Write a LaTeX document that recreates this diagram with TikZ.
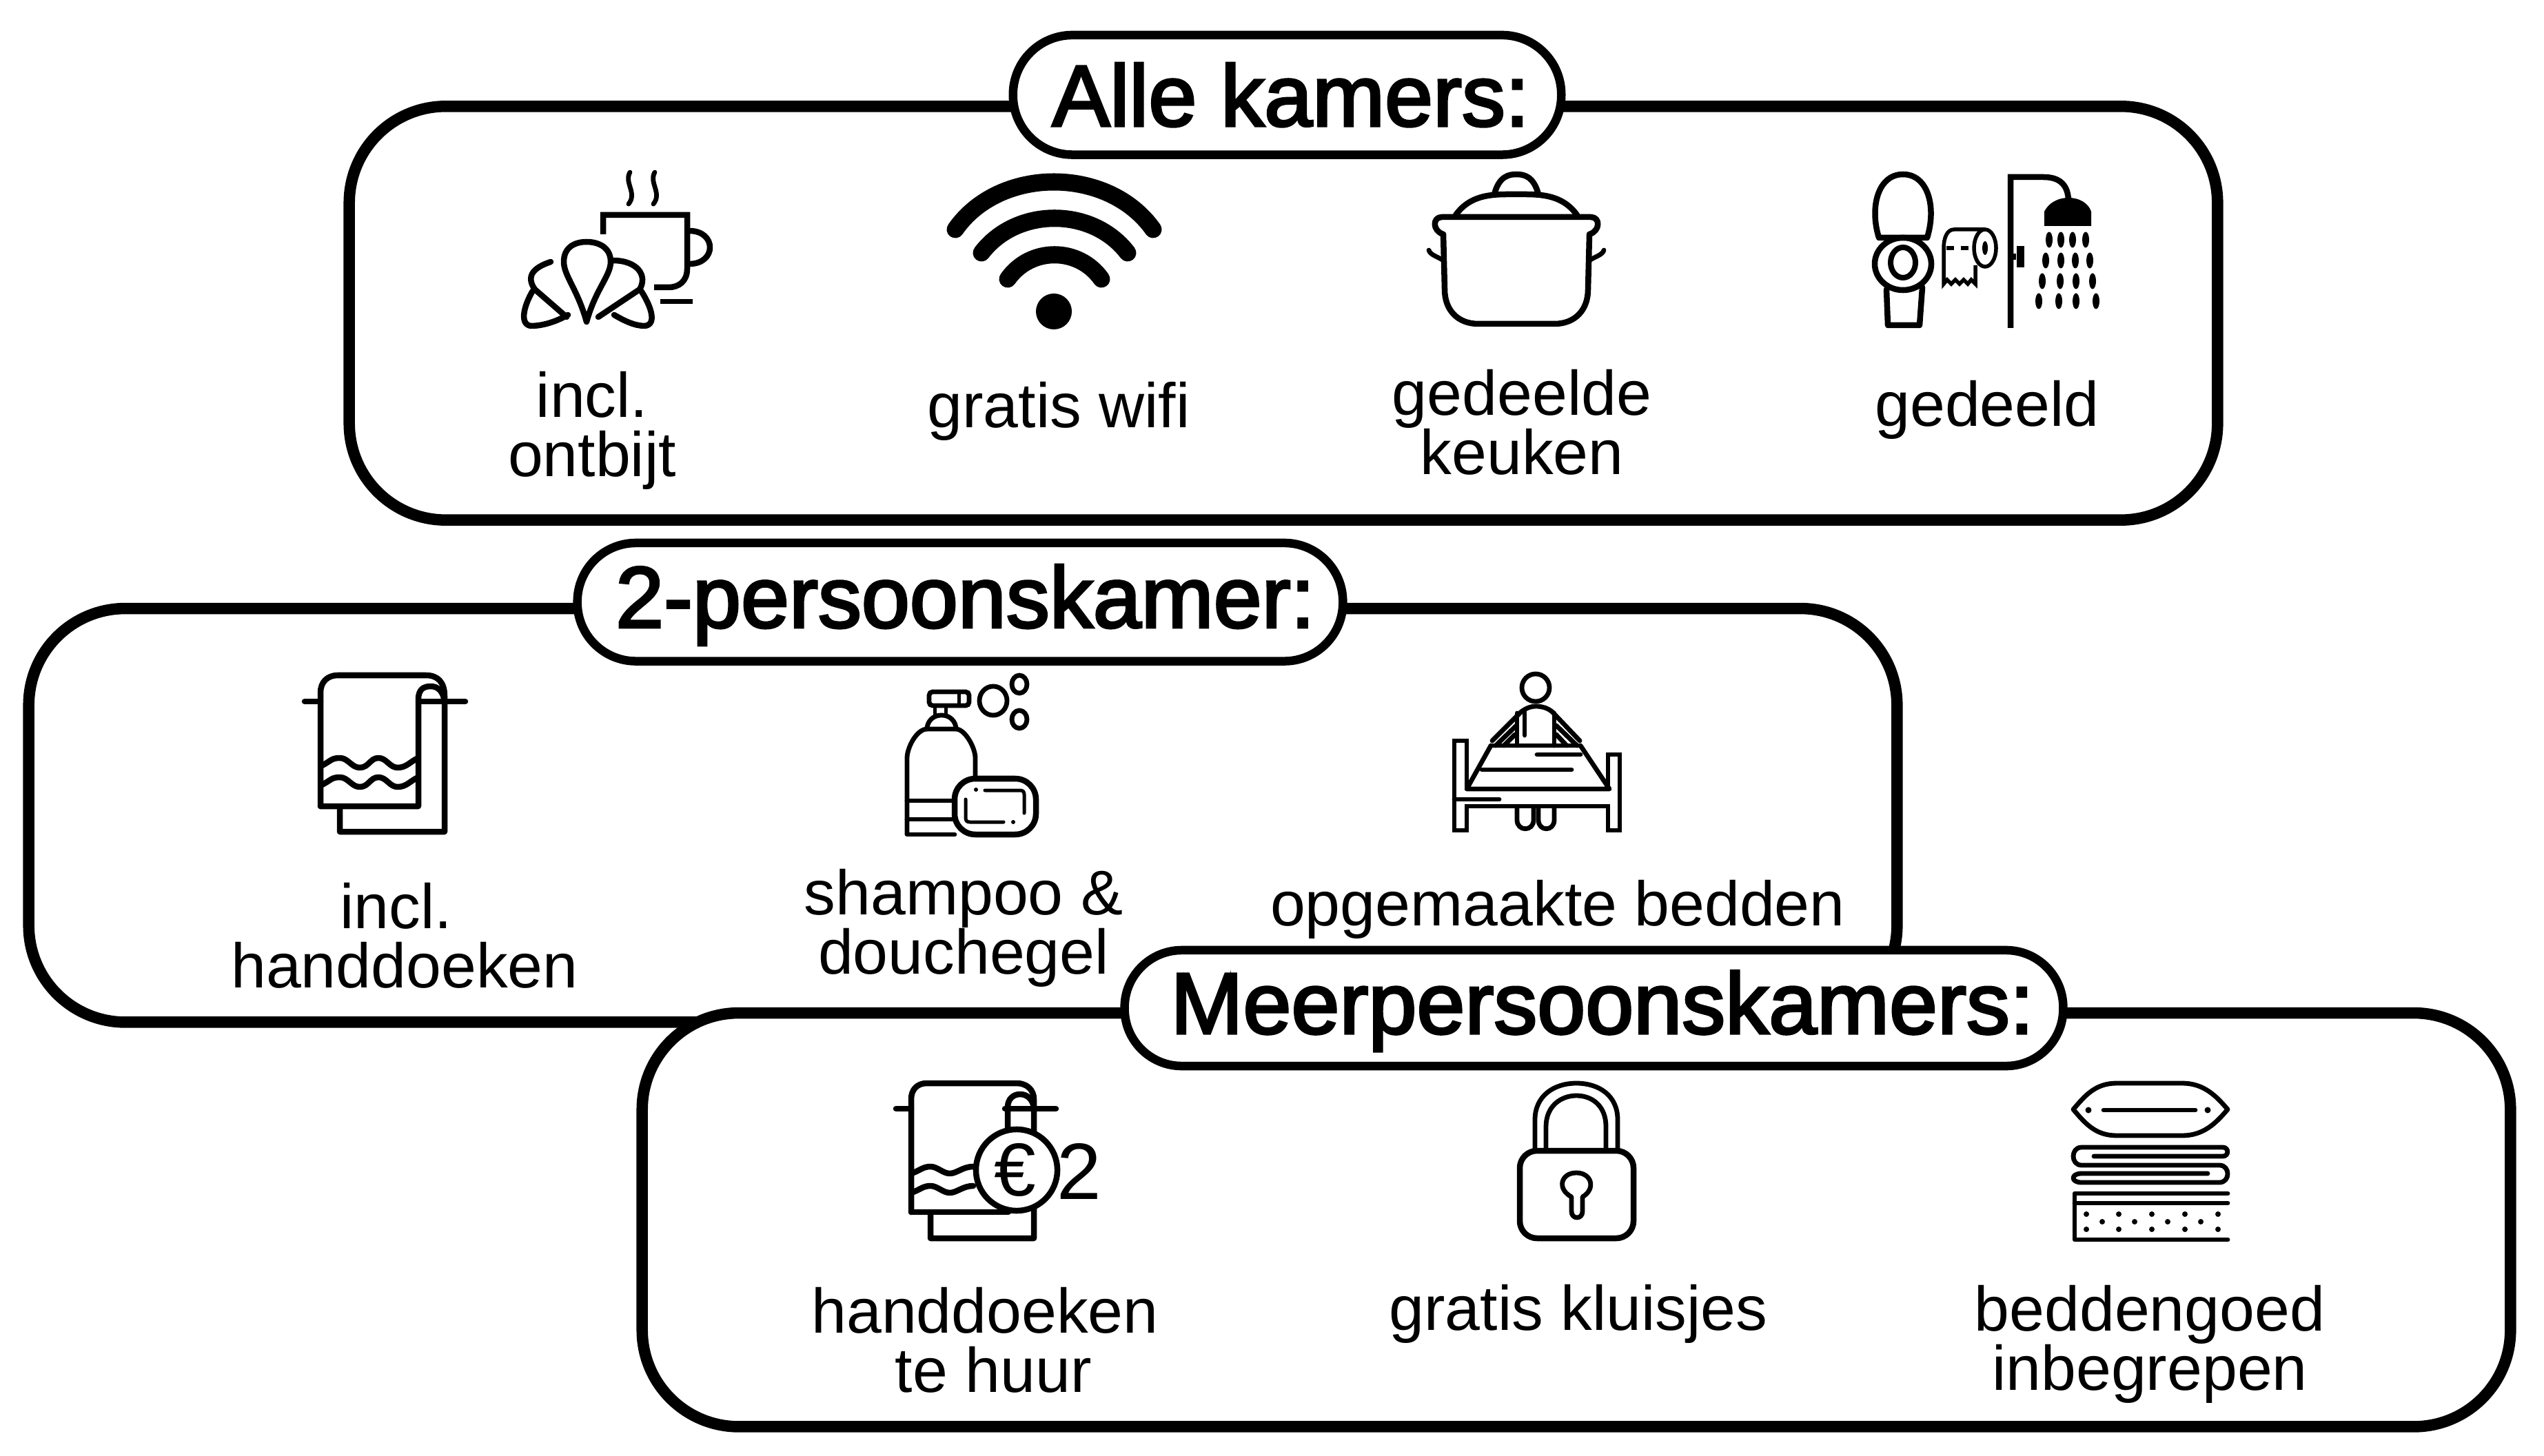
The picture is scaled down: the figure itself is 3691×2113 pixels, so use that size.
\documentclass[tikz,border=0pt]{standalone}
\usepackage{fontspec}
\setmainfont{Liberation Sans}
\newfontfamily\kopfont[FakeBold=2.8]{Liberation Sans}
\begin{document}
\begin{tikzpicture}[x=.01cm,y=-.01cm,
panel/.style={draw, line width=1.65mm, fill=white, rounded corners=14mm, inner sep=0pt, outer sep=0pt},
kop/.style={draw, line width=1.25mm, fill=white, inner sep=0pt, outer sep=0pt, font=\fontsize{35.8}{38}\kopfont},
tekst/.style={align=center, inner sep=0pt, font=\fontsize{26}{24.4}\selectfont},
icon/.style={line width=.85mm, line cap=round, line join=round},
thin icon/.style={line width=.68mm, line cap=round, line join=round}]
\useasboundingbox (0,0) rectangle (3691,2113);
% kaders
\node[panel, minimum width=27.09cm, minimum height=6cm] (box1) at (1862,454.5) {};
\node[panel, minimum width=27.09cm, minimum height=6cm] (box2) at (1397,1183.25) {};
\node[panel, minimum width=27.09cm, minimum height=6cm] (box3) at (2287,1770.25) {};
\node[kop, rounded corners=8.6mm, minimum width=7.95cm, minimum height=1.735cm] (kop1) at (1867.5,137.75) {\hspace*{3pt}Alle kamers:};
\node[kop, text depth=5pt, rounded corners=8.5mm, minimum width=11.1cm, minimum height=1.715cm] (kop2) at (1393,873.75) {\hspace*{4.2pt}2-persoonskamer:};
\node[kop, text depth=5pt, rounded corners=8.3mm, minimum width=13.61cm, minimum height=1.68cm] (kop3) at (2312.5,1463) {\hspace*{7pt}Meerpersoonskamers:};
% teksten
\node[tekst] (t1) at (859,625) {incl.\\ontbijt};
\node[tekst] (t2) at (1536,597) {gratis wifi};
\node[tekst] (t3) at (2208,613) {gedeelde\\keuken};
\node[tekst] (t4) at (2883,595) {gedeeld};
\node[tekst] (t5) at (587,1358) {incl.\hspace*{7pt}\\handdoeken};
\node[tekst] (t6) at (1398,1347) {shampoo \&\\douchegel};
\node[tekst] (t7) at (2260,1320) {opgemaakte bedden};
\node[tekst] (t8) at (1429,1945) {handdoeken\\\hspace*{7pt}te huur};
\node[tekst] (t9) at (2290,1907) {gratis kluisjes};
\node[tekst] (t10) at (3119,1951) {beddengoed\\inbegrepen};
% ontbijt
\draw[thin icon] (914,250) .. controls (905,265) and (925,280) .. (912,296);
\draw[thin icon] (950,250) .. controls (941,265) and (961,280) .. (948,296);
\draw[line width=.85mm] (875,340) -- (875,312) -- (997,312) -- (997,390) .. controls (997,408) and (985,417) .. (970,417) -- (949,417);
\draw[icon] (1000,335) .. controls (1040,335) and (1040,383) .. (1000,383);
\draw[line width=.7mm] (958,438) -- (1005,438);
\draw[icon] (851,467) .. controls (838,420) and (818,400) .. (818,380) .. controls (818,358) and (835,351) .. (851,351) .. controls (867,351) and (886,358) .. (886,380) .. controls (886,400) and (864,420) .. (851,467) -- cycle;
\draw[icon] (799,380) .. controls (775,388) and (762,400) .. (776,420) -- (822,460);
\draw[icon] (889,378) .. controls (925,378) and (940,400) .. (928,420) -- (868,460);
\draw[icon] (773,422) .. controls (762,440) and (752,470) .. (770,473) .. controls (790,473) and (810,465) .. (824,457);
\draw[icon] (930,422) .. controls (942,440) and (955,470) .. (936,473) .. controls (920,473) and (905,465) .. (891,457);
% wifi
\draw[line width=2.5mm, line cap=round] (1386,333) .. controls (1450,241) and (1608,241) .. (1673,333);
\draw[line width=2.5mm, line cap=round] (1424,367) .. controls (1475,300) and (1585,300) .. (1636,367);
\draw[line width=2.5mm, line cap=round] (1462,405) .. controls (1495,358) and (1565,358) .. (1598,405);
\fill (1529,452) circle (.26cm);
% pan
\draw[icon] (2092,315) -- (2308,315) .. controls (2322,315) and (2322,335) .. (2306,340) -- (2304,420) .. controls (2304,450) and (2285,470) .. (2255,470) -- (2145,470) .. controls (2115,470) and (2096,450) .. (2096,420) -- (2094,340) .. controls (2078,335) and (2078,315) .. (2092,315) -- cycle;
\draw[thin icon] (2073,363) .. controls (2075,370) and (2085,372) .. (2094,378);
\draw[thin icon] (2327,363) .. controls (2325,370) and (2315,372) .. (2306,378);
\draw[icon] (2112,312) .. controls (2135,280) and (2170,282) .. (2200,282) .. controls (2230,282) and (2265,280) .. (2288,312);
\draw[icon] (2168,282) .. controls (2175,255) and (2190,253) .. (2200,253) .. controls (2210,253) and (2225,255) .. (2232,282);
% toilet en douche
\draw[icon] (2726,345) .. controls (2712,300) and (2725,253) .. (2761,253) .. controls (2797,253) and (2810,300) .. (2796,345) -- cycle;
\draw[icon] (2761,383) ellipse (.41cm and .38cm);
\draw[line width=.8mm] (2761,381) ellipse (.18cm and .22cm);
\draw[icon] (2737,420) -- (2739,472) -- (2785,472) -- (2789,417);
\draw[line width=.55mm] (2880,360) ellipse (.16cm and .27cm);
\fill (2880,360) ellipse (.04cm and .1cm);
\draw[line width=.55mm] (2880,333) -- (2835,333) .. controls (2825,333) and (2820,345) .. (2820,360) -- (2820,412) -- (2825,406) -- (2831,412) -- (2837,406) -- (2843,412) -- (2849,406) -- (2855,412) -- (2860,406) -- (2866,412) -- (2866,385);
\draw[line width=.55mm, dash pattern=on 3pt off 3pt] (2824,360) -- (2858,360);
\draw[line width=.85mm] (2917,476) -- (2917,257) -- (2965,257) .. controls (2990,257) and (3000,270) .. (3001,290);
\draw[line width=.9mm] (2917,373) -- (2925,373);
\fill (2926,357) rectangle (2937,388);
\fill (2966,328) -- (2966,307) .. controls (2972,295) and (2985,287) .. (3001,287) .. controls (3017,287) and (3030,295) .. (3034,307) -- (3034,328) -- cycle;
\fill (2973,348) ellipse (.05cm and .115cm) (2990,348) ellipse (.05cm and .115cm) (3007,348) ellipse (.05cm and .115cm) (3026,348) ellipse (.05cm and .115cm);
\fill (2968,378) ellipse (.05cm and .115cm) (2990,378) ellipse (.05cm and .115cm) (3011,378) ellipse (.05cm and .115cm) (3032,378) ellipse (.05cm and .115cm);
\fill (2963,408) ellipse (.05cm and .115cm) (2989,408) ellipse (.05cm and .115cm) (3012,408) ellipse (.05cm and .115cm) (3036,408) ellipse (.05cm and .115cm);
\fill (2958,437) ellipse (.05cm and .115cm) (2987,437) ellipse (.05cm and .115cm) (3012,437) ellipse (.05cm and .115cm) (3041,437) ellipse (.05cm and .115cm);
% handdoek
\draw[icon] (442,1018) -- (465,1018);
\draw[icon] (607,1018) -- (675,1018);
\draw[icon] (465,1170) -- (465,1005) .. controls (465,990) and (475,980) .. (490,980) -- (618,980) .. controls (635,980) and (645,990) .. (645,1010) -- (645,1207) -- (493,1207) -- (493,1172);
\draw[icon] (465,1170) -- (607,1170) -- (607,1015) .. controls (607,1000) and (615,996) .. (625,996) .. controls (635,996) and (643,1003) .. (645,1018);
\draw[icon] (465,1112) .. controls (480,1105) and (480,1100) .. (493,1100) .. controls (505,1100) and (510,1114) .. (522,1114) .. controls (535,1114) and (537,1100) .. (549,1100) .. controls (561,1100) and (565,1114) .. (577,1114) .. controls (590,1114) and (595,1105) .. (607,1100);
\draw[icon] (465,1140) .. controls (480,1133) and (480,1128) .. (493,1128) .. controls (505,1128) and (510,1142) .. (522,1142) .. controls (535,1142) and (537,1128) .. (549,1128) .. controls (561,1128) and (565,1142) .. (577,1142) .. controls (590,1142) and (595,1133) .. (607,1128);
% shampoo en zeep
\draw[thin icon] (1316,1210) -- (1316,1100) .. controls (1316,1085) and (1330,1058) .. (1345,1058) -- (1387,1058) .. controls (1400,1058) and (1415,1085) .. (1415,1100) -- (1415,1128);
\draw[thin icon] (1316,1211) -- (1385,1211);
\draw[thin icon] (1316,1162) -- (1383,1162);
\draw[thin icon] (1316,1189) -- (1383,1189);
\draw[thin icon, rounded corners=2mm] (1345,1058) -- (1345,1038) -- (1387,1038) -- (1387,1058);
\draw[line width=.5mm] (1356,1038) -- (1356,1024) (1372,1038) -- (1372,1024);
\draw[line width=.68mm, rounded corners=.5mm] (1348,1004) rectangle (1406,1024);
\draw[line width=.5mm] (1391,1004) -- (1391,1024);
\draw[thin icon] (1441,1017) ellipse (.2cm and .21cm);
\draw[thin icon] (1479,993) ellipse (.11cm and .13cm);
\draw[thin icon] (1479,1044) ellipse (.11cm and .13cm);
\draw[icon, fill=white, rounded corners=3mm] (1385,1130) rectangle (1503,1211);
\draw[line width=.5mm, line cap=round] (1429,1147) -- (1480,1147) .. controls (1484,1147) and (1486,1149) .. (1486,1153) -- (1486,1180);
\draw[line width=.5mm, line cap=round] (1401,1160) -- (1401,1187) .. controls (1401,1191) and (1403,1193) .. (1407,1193) -- (1456,1193);
\fill (1416,1146) circle (.03cm) (1470,1193) circle (.03cm);
% bed
\draw[thin icon] (2228,998) circle (.2cm);
\draw[thin icon] (2165,1075) -- (2207,1033) .. controls (2215,1027) and (2222,1025) .. (2228,1025) .. controls (2236,1025) and (2245,1027) .. (2252,1033) -- (2292,1075);
\draw[thin icon] (2201,1035) -- (2201,1082);
\draw[thin icon] (2255,1035) -- (2255,1082);
\draw[thin icon] (2212,1033) -- (2212,1067);
\draw[thin icon] (2170,1082) -- (2200,1053);
\draw[thin icon] (2182,1082) -- (2198,1066);
\draw[thin icon] (2258,1053) -- (2288,1082);
\draw[thin icon] (2258,1066) -- (2273,1082);
\draw[thin icon] (2165,1082) -- (2292,1082);
\draw[thin icon] (2163,1082) -- (2128,1145) -- (2335,1145) -- (2293,1082);
\draw[thin icon] (2230,1095) -- (2293,1095);
\draw[thin icon] (2150,1117) -- (2280,1117);
\draw[line width=.68mm] (2128,1143) -- (2128,1075) -- (2110,1075) -- (2110,1205) -- (2128,1205) -- (2128,1170) -- (2333,1170) -- (2333,1205) -- (2350,1205) -- (2350,1095) -- (2333,1095) -- (2333,1143);
\draw[thin icon] (2110,1160) -- (2175,1160);
\draw[thin icon] (2201,1172) -- (2201,1190) .. controls (2201,1207) and (2225,1207) .. (2225,1190) -- (2225,1172);
\draw[thin icon] (2232,1172) -- (2232,1190) .. controls (2232,1207) and (2255,1207) .. (2255,1190) -- (2255,1172);
% handdoek met euro
\draw[icon] (1300,1609) -- (1322,1609);
\draw[icon] (1458,1609) -- (1532,1609);
\draw[icon] (1322,1759) -- (1322,1595) .. controls (1322,1582) and (1330,1572) .. (1345,1572) -- (1475,1572) .. controls (1490,1572) and (1500,1582) .. (1500,1595) -- (1500,1797) -- (1350,1797) -- (1350,1762);
\draw[icon] (1322,1759) -- (1463,1759);
\draw[icon] (1462,1640) -- (1462,1607) .. controls (1462,1595) and (1470,1588) .. (1480,1588) .. controls (1490,1588) and (1498,1595) .. (1500,1607);
\draw[icon] (1325,1702) .. controls (1335,1698) and (1340,1693) .. (1350,1693) .. controls (1360,1693) and (1368,1703) .. (1378,1703) .. controls (1388,1703) and (1397,1693) .. (1412,1693);
\draw[icon] (1325,1730) .. controls (1335,1726) and (1340,1721) .. (1350,1721) .. controls (1360,1721) and (1368,1731) .. (1378,1731) .. controls (1388,1731) and (1397,1721) .. (1412,1721);
\draw[icon, fill=white] (1475,1698) circle (.59cm);
\node[inner sep=0pt, font=\fontsize{31}{31}\selectfont] (euro) at (1473,1698) {€};
\node[inner sep=0pt, font=\fontsize{33}{33}\selectfont] (twee) at (1566,1700) {2};
% slot
\draw[icon, rounded corners=2.5mm] (2205,1670) rectangle (2370,1797);
\draw[thin icon] (2227,1667) -- (2227,1625) .. controls (2227,1590) and (2255,1572) .. (2287,1572) .. controls (2320,1572) and (2347,1590) .. (2347,1625) -- (2347,1667);
\draw[thin icon] (2243,1667) -- (2243,1635) .. controls (2243,1605) and (2265,1590) .. (2287,1590) .. controls (2310,1590) and (2330,1605) .. (2330,1635) -- (2330,1667);
\draw[thin icon] (2280,1737) .. controls (2258,1725) and (2265,1702) .. (2287,1702) .. controls (2309,1702) and (2316,1725) .. (2296,1737) -- (2296,1758) .. controls (2296,1770) and (2280,1770) .. (2280,1758) -- cycle;
% beddengoed
\draw[thin icon] (3008,1610) .. controls (3025,1590) and (3040,1572) .. (3071,1572) -- (3166,1572) .. controls (3197,1572) and (3215,1590) .. (3232,1610) .. controls (3215,1630) and (3197,1648) .. (3166,1648) -- (3071,1648) .. controls (3040,1648) and (3025,1630) .. (3008,1610) -- cycle;
\draw[thin icon] (3052,1611) -- (3185,1611);
\fill (3030,1611) circle (.045cm) (3203,1611) circle (.045cm);
\draw[thin icon] (3038,1678) -- (3225,1678) .. controls (3234,1678) and (3234,1665) .. (3225,1665) -- (3020,1665) .. controls (3004,1665) and (3004,1691) .. (3020,1691) -- (3220,1691) .. controls (3236,1691) and (3236,1716) .. (3220,1716) -- (3020,1716) .. controls (3004,1716) and (3004,1703) .. (3020,1703) -- (3203,1703);
\draw[thin icon] (3232,1732) -- (3010,1732) -- (3010,1799) -- (3232,1799);
\draw[thin icon] (3010,1746) -- (3232,1746);
\fill (3027,1762) circle (.04cm) (3074,1762) circle (.04cm) (3122,1762) circle (.04cm) (3170,1762) circle (.04cm) (3218,1762) circle (.04cm);
\fill (3050,1773) circle (.04cm) (3097,1773) circle (.04cm) (3145,1773) circle (.04cm) (3193,1773) circle (.04cm);
\fill (3027,1784) circle (.04cm) (3074,1784) circle (.04cm) (3122,1784) circle (.04cm) (3170,1784) circle (.04cm) (3218,1784) circle (.04cm);
\end{tikzpicture}
\end{document}
